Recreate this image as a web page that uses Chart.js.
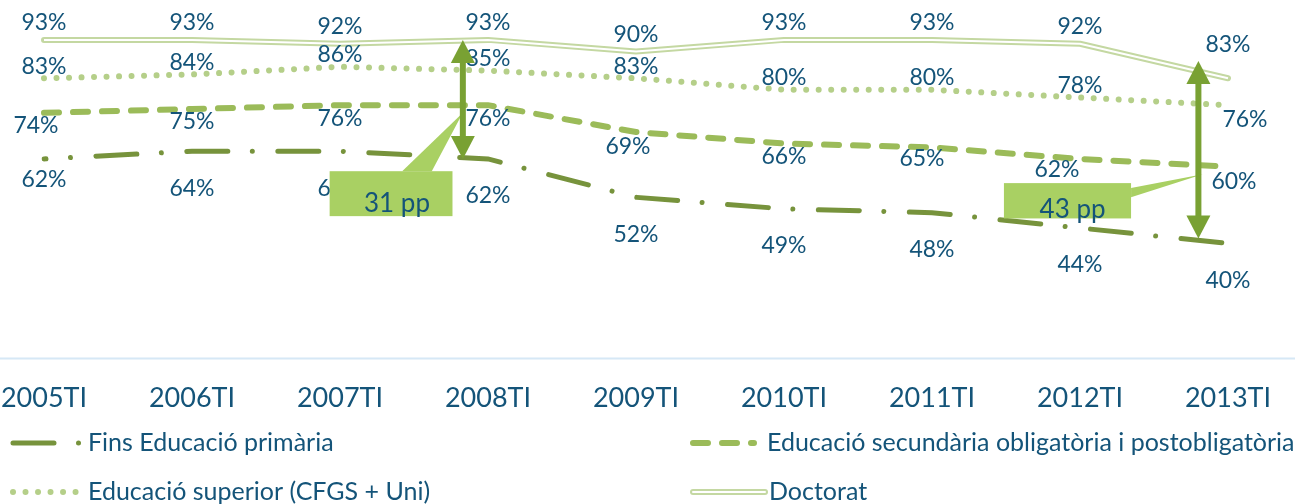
<!DOCTYPE html>
<html>
<head>
<meta charset="utf-8">
<script src="https://cdn.jsdelivr.net/npm/chart.js@4.4.1/dist/chart.umd.min.js"></script>
<style>
  html, body { margin: 0; padding: 0; background: #ffffff; }
  #wrap { width: 1295px; height: 504px; }
</style>
</head>
<body>
<div id="wrap"><canvas id="grafic" width="1295" height="504"></canvas></div>
<script>
// Dades (percentatges llegits del gràfic)
const categories = ['2005TI', '2006TI', '2007TI', '2008TI', '2009TI', '2010TI', '2011TI', '2012TI', '2013TI'];
const primaria = [62, 64, 64, 62, 52, 49, 48, 44, 40];
const secundaria = [74, 75, 76, 76, 69, 66, 65, 62, 60];
const superior = [83, 84, 86, 85, 83, 80, 80, 78, 76];
const doctorat = [93, 93, 92, 93, 90, 93, 93, 92, 83];
const seriesNames = [
    'Fins Educació primària',
    'Educació secundària obligatòria i postobligatòria',
    'Educació superior (CFGS + Uni)',
    'Doctorat'
];

const TEXT_COLOR = '#145479';
const FONT = 'Lato, "Open Sans", sans-serif';

// Anotacions: fletxes i requadres (en unitats de les escales)
const fletxes = [
    { x: 2.83, from: 93, to: 62 },
    { x: 7.80, from: 87.5, to: 41.3 }
];
const requadres = [
    { text: '31 pp', x0: 1.93, x1: 2.76, top: 58.8, bottom: 47.1,
      tip: [2.83, 74.0], base: [[2.42, 58.8], [2.62, 58.8]], tx: 2.385, ty: 50.3 },
    { text: '43 pp', x0: 6.486, x1: 7.345, top: 55.7, bottom: 46.5,
      tip: [7.83, 58.0], base: [[7.345, 54.4], [7.345, 52.0]], tx: 6.95, ty: 48.9 }
];

// Desplaçament de les etiquetes de dades (px) per sèrie
const labelOffsets = [37, 13, -12, -17];
const labelNudges = {
    '0-0': [0, -16],
    '1-0': [-8, 0], '1-4': [-8, 2], '1-6': [-10, -2], '1-7': [-23, -2], '1-8': [6, 2],
    '2-8': [17, 26],
    '3-8': [0, -17]
};

const axisLinePlugin = {
    id: 'axisLine',
    beforeDatasetsDraw(chart) {
        const ctx = chart.ctx;
        ctx.save();
        ctx.strokeStyle = '#d6e8f6';
        ctx.lineWidth = 2;
        ctx.beginPath();
        ctx.moveTo(0, chart.chartArea.bottom);
        ctx.lineTo(chart.width, chart.chartArea.bottom);
        ctx.stroke();
        ctx.restore();
    }
};

const doubleLinePlugin = {
    id: 'doubleLine',
    afterDatasetDraw(chart, args) {
        if (args.index !== 3) return;
        const pts = args.meta.data;
        const ctx = chart.ctx;
        ctx.save();
        ctx.strokeStyle = '#ffffff';
        ctx.lineWidth = 2;
        ctx.lineJoin = 'round';
        ctx.beginPath();
        pts.forEach((p, i) => i ? ctx.lineTo(p.x, p.y) : ctx.moveTo(p.x, p.y));
        ctx.stroke();
        ctx.restore();
    }
};

const dataLabelsPlugin = {
    id: 'dataLabels',
    afterDatasetsDraw(chart) {
        const ctx = chart.ctx;
        ctx.save();
        ctx.font = '23px ' + FONT;
        ctx.fillStyle = TEXT_COLOR;
        ctx.textAlign = 'center';
        ctx.textBaseline = 'middle';
        chart.data.datasets.forEach((ds, di) => {
            chart.getDatasetMeta(di).data.forEach((p, i) => {
                const n = labelNudges[di + '-' + i] || [0, 0];
                ctx.fillText(ds.data[i] + '%', p.x + n[0], p.y + labelOffsets[di] + n[1]);
            });
        });
        ctx.restore();
    }
};

const annotationsPlugin = {
    id: 'anotacions',
    afterDatasetsDraw(chart) {
        const ctx = chart.ctx;
        const xs = chart.scales.x, ys = chart.scales.y;
        const px = v => xs.getPixelForValue(v);
        const py = v => ys.getPixelForValue(v);
        ctx.save();
        requadres.forEach(r => {
            ctx.fillStyle = '#a9d063';
            ctx.fillRect(px(r.x0), py(r.top), px(r.x1) - px(r.x0), py(r.bottom) - py(r.top));
            ctx.beginPath();
            ctx.moveTo(px(r.base[0][0]), py(r.base[0][1]));
            ctx.lineTo(px(r.tip[0]), py(r.tip[1]));
            ctx.lineTo(px(r.base[1][0]), py(r.base[1][1]));
            ctx.closePath();
            ctx.fill();
            ctx.font = '26px ' + FONT;
            ctx.fillStyle = TEXT_COLOR;
            ctx.textAlign = 'center';
            ctx.textBaseline = 'middle';
            ctx.fillText(r.text, px(r.tx), py(r.ty));
        });
        fletxes.forEach(f => {
            const x = px(f.x), y1 = py(f.from), y2 = py(f.to);
            const hw = 12, hh = 23;
            ctx.fillStyle = '#79a133';
            ctx.fillRect(x - 3, y1 + hh - 1, 6, (y2 - y1) - 2 * hh + 2);
            ctx.beginPath();
            ctx.moveTo(x, y1); ctx.lineTo(x + hw, y1 + hh); ctx.lineTo(x - hw, y1 + hh);
            ctx.closePath(); ctx.fill();
            ctx.beginPath();
            ctx.moveTo(x, y2); ctx.lineTo(x + hw, y2 - hh); ctx.lineTo(x - hw, y2 - hh);
            ctx.closePath(); ctx.fill();
        });
        ctx.restore();
    }
};

// Llegenda pròpia en dues columnes
const legendItems = [
    { ds: 0, x: 10, y: 443, len: 72, tx: 88 },
    { ds: 1, x: 690, y: 443, len: 64, tx: 767 },
    { ds: 2, x: 10, y: 492, len: 70, tx: 88 },
    { ds: 3, x: 690, y: 492, len: 75, tx: 769 }
];
const legendPlugin = {
    id: 'llegenda',
    afterDraw(chart) {
        const ctx = chart.ctx;
        ctx.save();
        legendItems.forEach(it => {
            const ds = chart.data.datasets[it.ds];
            ctx.strokeStyle = ds.borderColor;
            ctx.lineWidth = ds.borderWidth;
            ctx.lineCap = ds.borderCapStyle || 'butt';
            ctx.setLineDash(ds.borderDash || []);
            ctx.lineDashOffset = it.ds === 0 ? 0 : (ds.borderDashOffset || 0);
            ctx.beginPath();
            ctx.moveTo(it.x + 3, it.y);
            ctx.lineTo(it.x + it.len, it.y);
            ctx.stroke();
            if (it.ds === 3) {
                ctx.strokeStyle = '#ffffff';
                ctx.lineWidth = 2;
                ctx.stroke();
            }
            ctx.setLineDash([]);
            ctx.font = '25px ' + FONT;
            ctx.fillStyle = TEXT_COLOR;
            ctx.textAlign = 'left';
            ctx.textBaseline = 'middle';
            ctx.fillText(seriesNames[it.ds], it.tx, it.y);
        });
        ctx.restore();
    }
};

new Chart(document.getElementById('grafic'), {
    type: 'line',
    data: {
        labels: categories,
        datasets: [
            {
                label: seriesNames[0],
                data: primaria,
                borderColor: '#77933c',
                borderWidth: 5,
                borderDash: [41, 24.5, 0.01, 25.5],
                borderDashOffset: 39,
                borderCapStyle: 'round',
                pointRadius: 0,
                tension: 0
            },
            {
                label: seriesNames[1],
                data: secundaria,
                borderColor: '#9bbb59',
                borderWidth: 6,
                borderDash: [15, 14],
                borderCapStyle: 'round',
                pointRadius: 0,
                tension: 0
            },
            {
                label: seriesNames[2],
                data: superior,
                borderColor: '#b5cf89',
                borderWidth: 6,
                borderDash: [0.01, 12.5],
                borderCapStyle: 'round',
                pointRadius: 0,
                tension: 0
            },
            {
                label: seriesNames[3],
                data: doctorat,
                borderColor: '#c4d8a2',
                borderWidth: 6,
                borderCapStyle: 'round',
                borderJoinStyle: 'round',
                pointRadius: 0,
                tension: 0
            }
        ]
    },
    options: {
        responsive: false,
        animation: false,
        devicePixelRatio: 1,
        layout: { padding: { left: 44, right: 67, top: 13, bottom: 67 } },
        scales: {
            x: {
                grid: { display: false, drawTicks: false },
                border: { display: false },
                ticks: { color: TEXT_COLOR, font: { family: FONT, size: 27 }, padding: 23, maxRotation: 0 },
                afterFit(scale) {
                    scale.paddingLeft = 0;
                    scale.paddingRight = 0;
                }
            },
            y: { display: false, min: 10, max: 100 }
        },
        plugins: {
            legend: { display: false },
            tooltip: { enabled: false }
        }
    },
    plugins: [axisLinePlugin, doubleLinePlugin, dataLabelsPlugin, annotationsPlugin, legendPlugin]
});
</script>
</body>
</html>
